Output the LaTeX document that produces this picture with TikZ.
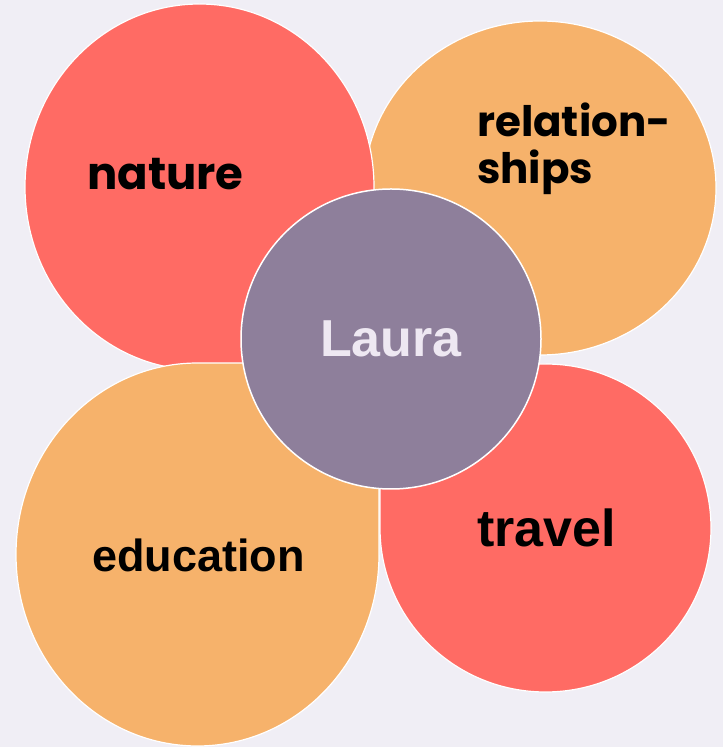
\documentclass[tikz,border=0pt]{standalone}
\usepackage{fontspec}
\setmainfont{Liberation Sans}
\newfontfamily\geofont{Poppins}
\usepackage{tikz}
\usetikzlibrary{positioning,calc}
\definecolor{petalred}{HTML}{FF6B64}
\definecolor{petalorange}{HTML}{F6B26B}
\definecolor{hubpurple}{HTML}{8E7F9B}
\definecolor{backdrop}{HTML}{F0EEF5}
\definecolor{hubtext}{HTML}{EEE8F2}
\tikzset{
    petal/.style = {draw=white, line width=1.2pt},
    hub/.style = {circle, draw=white, line width=1.5pt, fill=hubpurple, minimum size=300pt, inner sep=0pt,
                  text=hubtext, font=\bfseries\fontsize{52}{60}\selectfont},
    geolabel/.style = {anchor=base west, inner sep=0pt, font=\geofont\bfseries\fontsize{42}{47.5}\selectfont, align=left},
    arlabel/.style = {anchor=base west, inner sep=0pt, font=\bfseries}
}

\begin{document}
\begin{tikzpicture}[x=1pt,y=1pt]
        \fill[backdrop] (0,0) rectangle (723,747);
        \useasboundingbox (0,0) rectangle (723,747);
        % Draw the four petals
        \path[petal,fill=petalorange] (364,392) -- (540,392) arc[start angle=270, end angle=540, x radius=176, y radius=167] -- cycle;
        \path[petal,fill=petalred] (374,377) -- (374,560) arc[start angle=0, end angle=270, x radius=174.5, y radius=183] -- cycle;
        \path[petal,fill=petalred] (380,383) -- (380,219) arc[start angle=180, end angle=450, x radius=165.5, y radius=164] -- cycle;
        \path[petal,fill=petalorange] (379,384) -- (197.5,384) arc[start angle=90, end angle=360, x radius=181.5, y radius=191.5] -- cycle;
        % Centre
        \node[hub] (laura) at (391,408) {Laura};
        % Label the petals
        \node[geolabel, font=\geofont\bfseries\fontsize{45}{50}\selectfont] (nature) at (87,557) {nature};
        \node[geolabel] (relationships) at (477,563) {relation-\\ships};
        \node[arlabel, font=\bfseries\fontsize{45}{50}\selectfont] (education) at (92,175) {education};
        \node[arlabel, font=\bfseries\fontsize{52}{60}\selectfont] (travel) at (477,200) {travel};
    \end{tikzpicture}
\end{document}
